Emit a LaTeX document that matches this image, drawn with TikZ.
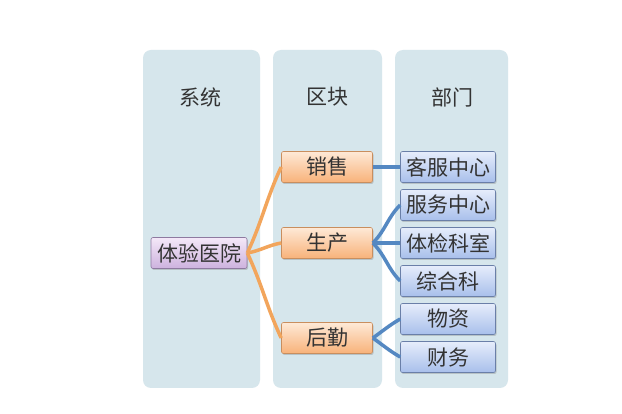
\documentclass[tikz,border=0pt]{standalone}
\usepackage{fontspec}
\setmainfont{Noto Sans CJK SC}
\usetikzlibrary{shadows}
\definecolor{colbg}{HTML}{D6E6EC}
\definecolor{orTop}{HTML}{FEE9D6}
\definecolor{orBot}{HTML}{F8B27A}
\definecolor{orLine}{HTML}{F2A55C}
\definecolor{orDraw}{HTML}{C98E5E}
\definecolor{puTop}{HTML}{F4E8F8}
\definecolor{puBot}{HTML}{CDB2DE}
\definecolor{puDraw}{HTML}{8E7AA0}
\definecolor{blTop}{HTML}{E6EDFB}
\definecolor{blBot}{HTML}{A8BFEB}
\definecolor{blDraw}{HTML}{6A7FA8}
\definecolor{blLine}{HTML}{5488C2}
\definecolor{txt}{HTML}{333333}
\tikzset{
  colbox/.style={fill=colbg, rounded corners=8pt, draw=none},
  hdr/.style={font=\fontsize{21}{21}\selectfont, text=txt},
  box/.style={rounded corners=2pt, minimum height=31pt, inner sep=0pt,
    font=\fontsize{21}{21}\selectfont, text=txt, line width=0.6pt,
    drop shadow={shadow xshift=1pt, shadow yshift=-1.5pt, opacity=0.35}},
  sysbox/.style={box, minimum width=96pt, top color=puTop, bottom color=puBot, draw=puDraw},
  blkbox/.style={box, minimum width=91pt, top color=orTop, bottom color=orBot, draw=orDraw},
  depbox/.style={box, minimum width=95pt, top color=blTop, bottom color=blBot, draw=blDraw},
  orl/.style={draw=orLine, line width=3.5pt},
  bll/.style={draw=blLine, line width=3.5pt}
}
\begin{document}
\begin{tikzpicture}[x=1pt,y=-1pt]
\useasboundingbox[fill=white] (0,0) rectangle (622,414);
\fill[colbox] (143,50) rectangle (260,388);
\fill[colbox] (273,50) rectangle (382,388);
\fill[colbox] (395,50) rectangle (508,388);
\node[hdr] (h1) at (200,97) {系统};
\node[hdr] (h2) at (327,97) {区块};
\node[hdr] (h3) at (452,97) {部门};
\node[sysbox] (sys) at (199,253) {体验医院};
\node[blkbox] (xs) at (327,167) {销售};
\node[blkbox] (sc) at (327,243) {生产};
\node[blkbox] (hq) at (327,338) {后勤};
\node[depbox] (kf) at (448,167) {客服中心};
\node[depbox] (fw) at (448,205) {服务中心};
\node[depbox] (tj) at (448,243) {体检科室};
\node[depbox] (zh) at (448,281) {综合科};
\node[depbox] (wz) at (448,319) {物资};
\node[depbox] (cw) at (448,357) {财务};
\path[orl] (sys.east) to[out=65,in=-115] (xs.west);
\path[orl] (sys.east) to[out=10,in=190] (sc.west);
\path[orl] (sys.east) to[out=-65,in=115] (hq.west);
\path[bll] (xs.east) -- (kf.west);
\path[bll] (sc.east) to[out=45,in=-135] (fw.west);
\path[bll] (sc.east) -- (tj.west);
\path[bll] (sc.east) to[out=-45,in=135] (zh.west);
\path[bll] (hq.east) to[out=35,in=-150] (wz.west);
\path[bll] (hq.east) to[out=-35,in=150] (cw.west);
\end{tikzpicture}
\end{document}
